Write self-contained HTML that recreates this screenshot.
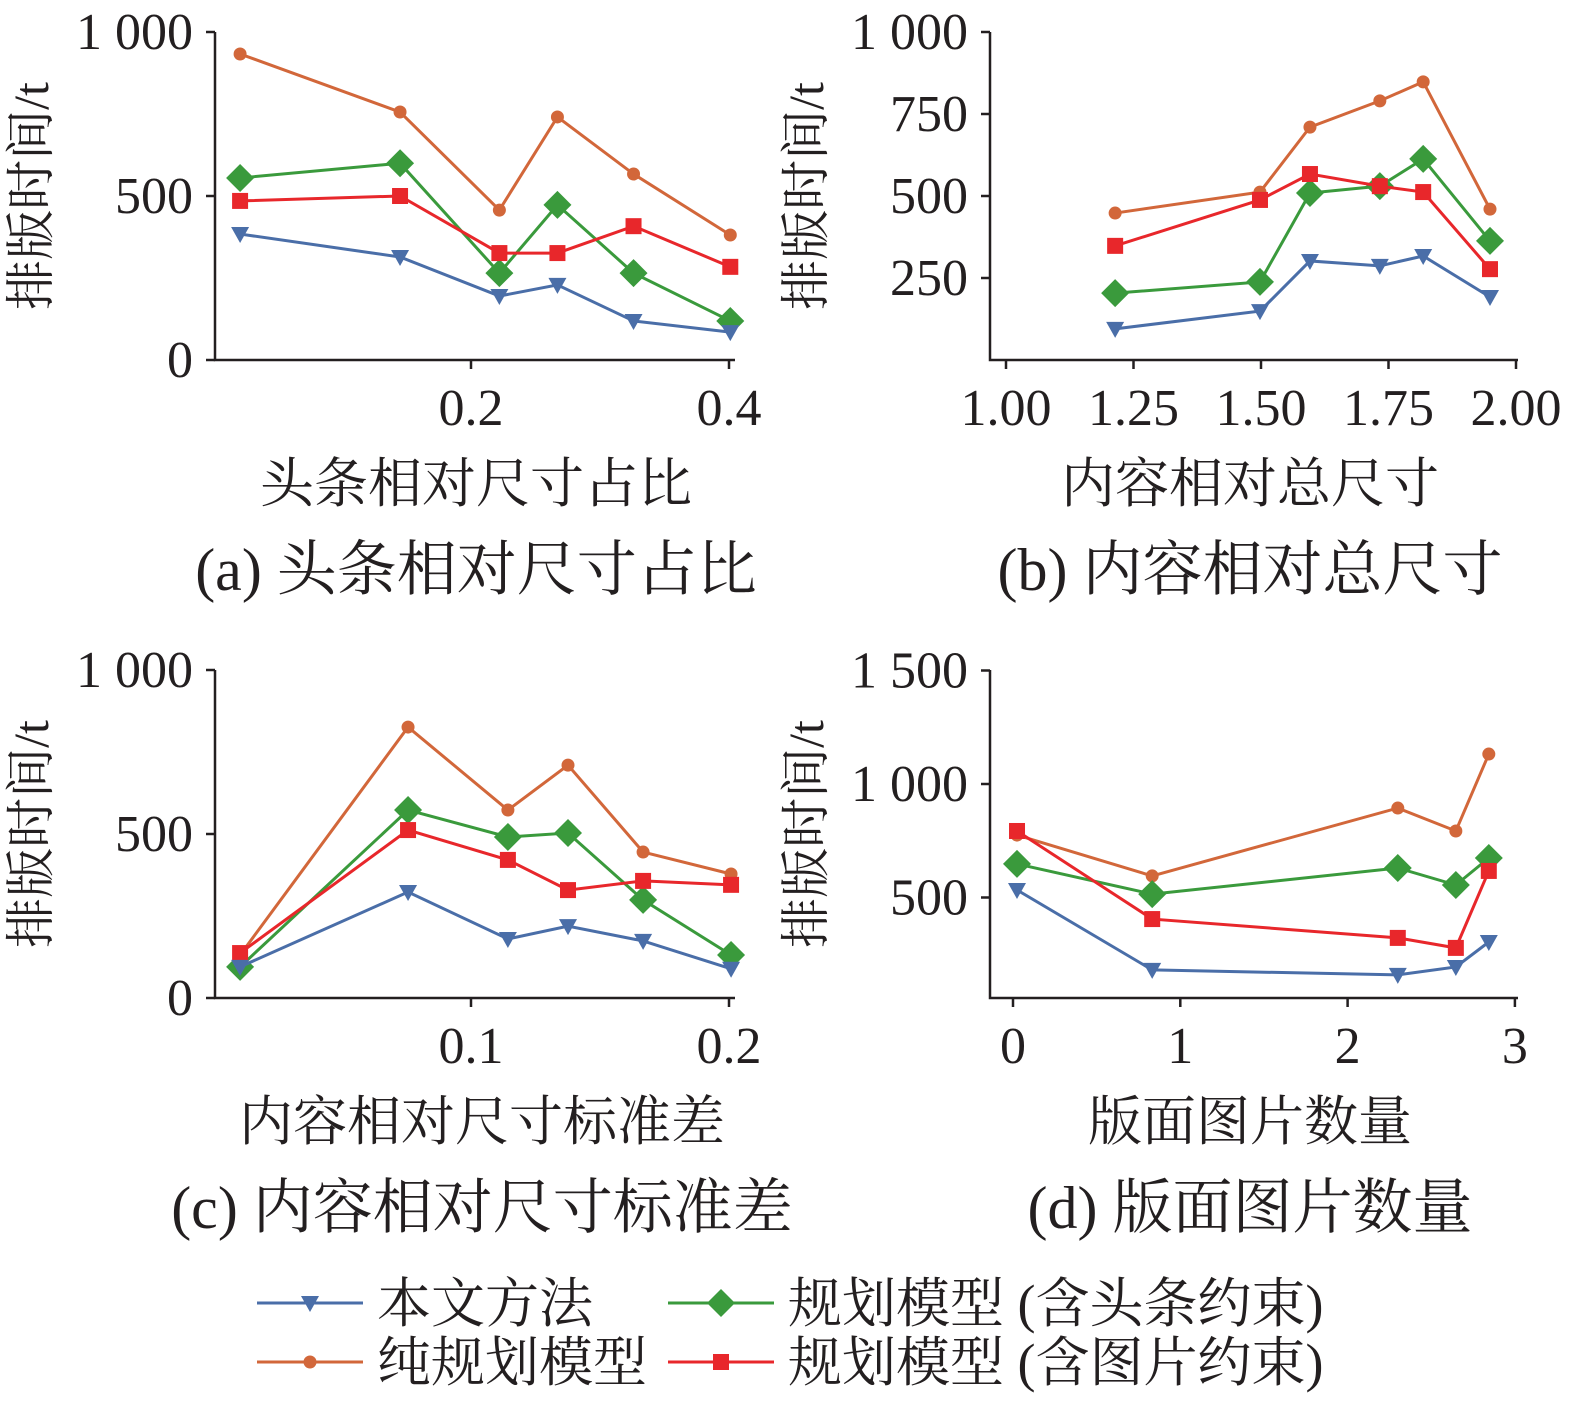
<!DOCTYPE html>
<html><head><meta charset="utf-8"><style>
body{margin:0;background:#fff}
svg{display:block}
text{font-family:"Liberation Serif","Noto Serif CJK SC",serif;fill:#231f20}
</style></head><body>
<svg id="c" width="1575" height="1404" viewBox="0 0 1575 1404" xmlns="http://www.w3.org/2000/svg"></svg>
<script>
// Panel (a)
const xA=[0.021,0.145,0.222,0.267,0.326,0.401];
const aOrange=[933,756,457,741,567,381];
const aGreen=[555,600,265,473,265,119];
const aRed=[485,500,326,326,408,284];
const aBlue=[384,314,195,229,119,85];
const aXTicks=[0.2,0.4]; const aYTicks=[0,500,1000];
// Panel (b)
const xB=[1.214,1.498,1.596,1.733,1.818,1.949];
const bOrange=[448,512,710,790,848,460];
const bGreen=[204,238,509,530,613,363];
const bRed=[348,488,567,530,512,277];
const bBlue=[95,149,302,287,317,192];
const bXTicks=[1.00,1.25,1.50,1.75,2.00]; const bYTicks=[250,500,750,1000];
// Panel (c)
const xC=[0.0105,0.0756,0.1143,0.1376,0.1667,0.2008];
const cOrange=[131,826,573,710,445,378];
const cGreen=[95,573,491,503,299,131];
const cRed=[137,512,421,329,357,345];
const cBlue=[95,323,180,219,174,89];
const cXTicks=[0.1,0.2]; const cYTicks=[0,500,1000];
// Panel (d)
const xD=[0.024,0.832,2.3,2.647,2.844];
const dOrange=[775,595,894,793,1132];
const dGreen=[648,515,630,555,674];
const dRed=[793,405,322,278,617];
const dBlue=[533,181,159,194,304];
const dXTicks=[0,1,2,3]; const dYTicks=[500,1000,1500];

const C={blue:'#4a6ea8',orange:'#d2673a',green:'#3a9a3c',red:'#e8272b'};
const svg=document.getElementById('c');
const NS='http://www.w3.org/2000/svg';
function mk(t,a,p){const e=document.createElementNS(NS,t);for(const k in a)e.setAttribute(k,a[k]);(p||svg).appendChild(e);return e;}
function marker(g,type,x,y,col){
  let e;
  if(type==='tri') e=mk('path',{d:`M${x-9},${y-7}L${x+9},${y-7}L${x},${y+9}Z`,fill:col},g);
  else if(type==='dot') e=mk('circle',{cx:x,cy:y,r:6.5,fill:col},g);
  else if(type==='dia') e=mk('path',{d:`M${x},${y-14}L${x+14},${y}L${x},${y+14}L${x-14},${y}Z`,fill:col},g);
  else e=mk('rect',{x:x-8,y:y-8,width:16,height:16,fill:col},g);
  return e;
}
function panel(id,o){
  const g=mk('g',{});
  
  
  const sx=v=>o.x0+(v-o.xv0)*o.xk, sy=v=>o.y0-(v-o.yv0)*o.yk;
  const ax=mk('path',{d:`M${o.ax},${o.top}V${o.bot}H${o.right}`,stroke:'#231f20','stroke-width':2.5,fill:'none'},g);
  
  
  o.yt.forEach(v=>{const y=sy(v);mk('line',{x1:o.ax-9,x2:o.ax,y1:y,y2:y,stroke:'#231f20','stroke-width':2.5},g);
    const t=mk('text',{x:o.ax-22,y:y+17,'font-size':52,'text-anchor':'end'},g);t.textContent=v>=1000?String(v).replace(/(\d)(\d{3})$/,'$1 $2'):v;
    
    });
  o.xt.forEach(v=>{const x=sx(v);mk('line',{x1:x,x2:x,y1:o.bot,y2:o.bot+9,stroke:'#231f20','stroke-width':2.5},g);
    const t=mk('text',{x:x,y:o.bot+65,'font-size':52,'text-anchor':'middle'},g);t.textContent=o.fmt(v);
    
    });
  const series=[['orange','dot',o.s[0]],['green','dia',o.s[1]],['red','sq',o.s[2]],['blue','tri',o.s[3]]];
  series.forEach(([c,m,vals])=>{
    const pts=vals.map((v,i)=>[sx(o.xs[i]),sy(v)]);
    const l=mk('polyline',{points:pts.map(p=>p.join(',')).join(' '),fill:'none',stroke:C[c],'stroke-width':3},g);
    
    
    pts.forEach(p=>{const e=marker(g,m,p[0],p[1],C[c]);
      
      });
  });
  const yt=mk('text',{transform:`translate(${o.ytx},${(o.top+o.bot)/2}) rotate(-90)`,'font-size':50,'text-anchor':'middle'},g);
  yt.textContent='排版时间/t';
  
  
  const xt=mk('text',{x:o.cx,y:o.bot+142,'font-size':54,'text-anchor':'middle'},g);
  xt.textContent=o.xtitle;
  
  
  const cap=mk('text',{x:o.cx,y:o.bot+230,'font-size':60,'text-anchor':'middle'},g);
  cap.textContent=o.cap;
  
  
}
panel('panel-a',{ax:215,top:32,bot:360,right:735,x0:213,xv0:0,xk:1290,y0:360,yv0:0,yk:0.328,xs:xA,s:[aOrange,aGreen,aRed,aBlue],xt:aXTicks,yt:aYTicks,fmt:v=>v.toFixed(1),ytx:48,cx:476,xtitle:'头条相对尺寸占比',cap:'(a) 头条相对尺寸占比'});
panel('panel-b',{ax:990,top:32,bot:360,right:1518,x0:1006,xv0:1,xk:510,y0:360,yv0:0,yk:0.328,xs:xB,s:[bOrange,bGreen,bRed,bBlue],xt:bXTicks,yt:bYTicks,fmt:v=>v.toFixed(2),ytx:823,cx:1250,xtitle:'内容相对总尺寸',cap:'(b) 内容相对总尺寸'});
panel('panel-c',{ax:215,top:670,bot:998,right:735,x0:213,xv0:0,xk:2580,y0:998,yv0:0,yk:0.328,xs:xC,s:[cOrange,cGreen,cRed,cBlue],xt:cXTicks,yt:cYTicks,fmt:v=>v.toFixed(1),ytx:48,cx:482,xtitle:'内容相对尺寸标准差',cap:'(c) 内容相对尺寸标准差'});
panel('panel-d',{ax:990,top:670,bot:998,right:1518,x0:1013,xv0:0,xk:167.3,y0:1011,yv0:0,yk:0.227,xs:xD,s:[dOrange,dGreen,dRed,dBlue],xt:dXTicks,yt:dYTicks,fmt:v=>String(v),ytx:823,cx:1250,xtitle:'版面图片数量',cap:'(d) 版面图片数量'});

// legend
const lg=mk('g',{});


[[257,1303,'blue','tri','本文方法'],[668,1303,'green','dia','规划模型 (含头条约束)'],[257,1362,'orange','dot','纯规划模型'],[668,1362,'red','sq','规划模型 (含图片约束)']].forEach(([x,y,c,m,t])=>{
  const it=mk('g',{},lg);
  
  
  mk('line',{x1:x,x2:x+106,y1:y,y2:y,stroke:C[c],'stroke-width':3},it);
  marker(it,m,x+53,y,C[c]);
  const tx=mk('text',{x:x+120,y:y+19,'font-size':54},it);tx.textContent=t;
});
</script>
</body></html>
